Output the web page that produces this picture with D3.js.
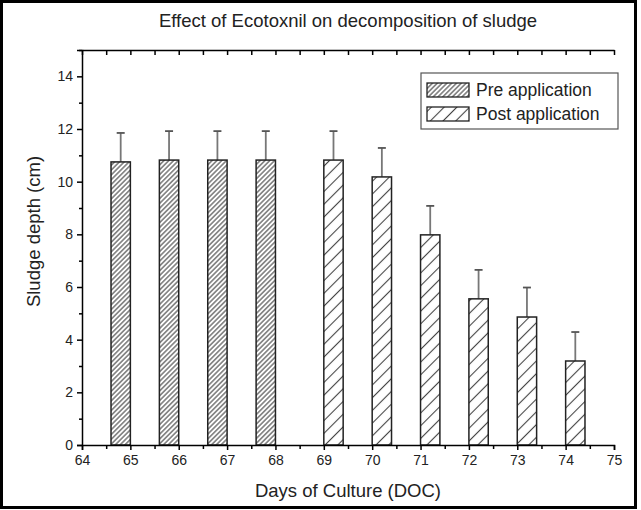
<!DOCTYPE html>
<html lang="en">
<head>
<meta charset="UTF-8">
<title>Sludge depth</title>
<script src="https://d3js.org/d3.v7.min.js"></script>
<style>
    body { margin: 0; background: #fff; }
    svg { display: block; font-family: "Liberation Sans", Arial, sans-serif; }
</style>
</head>
<body>
<svg width="641" height="510"></svg>
<script>
// data
const preDays = [65, 66, 67, 68];
const preDepth = [10.75, 10.82, 10.82, 10.82];
const preErr = [1.1, 1.1, 1.1, 1.1];
const postDays = [69, 70, 71, 72, 73, 74];
const postDepth = [10.82, 10.18, 7.98, 5.55, 4.86, 3.19];
const postErr = [1.1, 1.1, 1.1, 1.1, 1.12, 1.1];
const xTicks = [64, 65, 66, 67, 68, 69, 70, 71, 72, 73, 74, 75];
const yTicks = [0, 2, 4, 6, 8, 10, 12, 14];
const seriesNames = ["Pre application", "Post application"];

const svg = d3.select("svg");
const W = 641, H = 510;
const m = {left: 82, right: 27, top: 50, bottom: 65};

// frame around the whole figure
svg.append("rect")
    .attr("x", 1.5).attr("y", 1.5)
    .attr("width", 634).attr("height", H - 4)
    .attr("fill", "#fff").attr("stroke", "#000").attr("stroke-width", 3);

const defs = svg.append("defs");
function hatch(id, gap, w) {
    const p = defs.append("pattern")
        .attr("id", id)
        .attr("patternUnits", "userSpaceOnUse")
        .attr("width", gap).attr("height", gap)
        .attr("patternTransform", "rotate(45)");
    p.append("rect").attr("width", gap).attr("height", gap).attr("fill", "#fff");
    p.append("line")
        .attr("x1", gap / 2).attr("y1", 0).attr("x2", gap / 2).attr("y2", gap)
        .attr("stroke", "#444").attr("stroke-width", w);
}
hatch("pre", 3.4, 1.1);
hatch("post", 9, 1.1);

const x = d3.scaleLinear().domain([64, 75]).range([m.left, W - m.right]);
const y = d3.scaleLinear().domain([0, 15]).range([H - m.bottom, m.top]);
const bw = 0.4;

// title
svg.append("text")
    .attr("x", (x(64) + x(75)) / 2).attr("y", 27)
    .attr("text-anchor", "middle")
    .attr("font-size", 18.5).attr("fill", "#222")
    .text("Effect of Ecotoxnil on decomposition of sludge");

function drawSeries(days, vals, errs, pat, offset) {
    const g = svg.append("g");
    const rows = days.map((d, i) => ({d, v: vals[i], e: errs[i]}));
    const cx = r => x(r.d + offset + bw / 2);
    g.selectAll("line.err").data(rows).join("line")
        .attr("x1", cx).attr("x2", cx)
        .attr("y1", r => y(r.v)).attr("y2", r => y(r.v + r.e))
        .attr("stroke", "#777").attr("stroke-width", 1.8);
    g.selectAll("line.cap").data(rows).join("line")
        .attr("x1", r => cx(r) - 4).attr("x2", r => cx(r) + 4)
        .attr("y1", r => y(r.v + r.e)).attr("y2", r => y(r.v + r.e))
        .attr("stroke", "#555").attr("stroke-width", 1.8);
    g.selectAll("rect").data(rows).join("rect")
        .attr("x", r => x(r.d + offset))
        .attr("width", r => x(r.d + offset + bw) - x(r.d + offset))
        .attr("y", r => y(r.v))
        .attr("height", r => y(0) - y(r.v))
        .attr("fill", `url(#${pat})`)
        .attr("stroke", "#222").attr("stroke-width", 1.5);
}
drawSeries(preDays, preDepth, preErr, "pre", -bw);
drawSeries(postDays, postDepth, postErr, "post", 0);

// axes
const xMinor = d3.range(64, 75.01, 0.5);
const yMinor = d3.range(0, 15.01, 1);

svg.append("g")
    .attr("transform", `translate(0,${y(0)})`)
    .call(d3.axisBottom(x).tickValues(xTicks).tickFormat(d3.format("d")).tickSize(5).tickPadding(5));
svg.append("g")
    .attr("transform", `translate(0,${y(0)})`)
    .call(d3.axisBottom(x).tickValues(xMinor.filter(v => v % 1 !== 0)).tickFormat("").tickSize(4))
    .select(".domain").remove();

svg.append("g")
    .attr("transform", `translate(${m.left},0)`)
    .call(d3.axisLeft(y).tickValues(yTicks).tickSize(5).tickPadding(4));
svg.append("g")
    .attr("transform", `translate(${m.left},0)`)
    .call(d3.axisLeft(y).tickValues(yMinor.filter(v => v % 2 !== 0)).tickFormat("").tickSize(3))
    .select(".domain").remove();

// top axis, ticks inward, no labels
svg.append("g")
    .attr("transform", `translate(0,${m.top})`)
    .call(d3.axisBottom(x).tickValues(xMinor).tickFormat("").tickSizeInner(5).tickSizeOuter(0));

svg.selectAll(".domain").attr("stroke", "#000").attr("stroke-width", 1.5);
svg.selectAll(".tick line").attr("stroke", "#000").attr("stroke-width", 1.5);
svg.selectAll(".tick text").attr("font-size", 14).attr("fill", "#222")
    .attr("font-family", "Liberation Sans, Arial, sans-serif");

// axis titles
svg.append("text")
    .attr("x", (x(64) + x(75)) / 2).attr("y", 497)
    .attr("text-anchor", "middle").attr("font-size", 18.5).attr("fill", "#222")
    .text("Days of Culture (DOC)");
svg.append("text")
    .attr("transform", `translate(40,${(y(0) + y(15)) / 2 - 16}) rotate(-90)`)
    .attr("text-anchor", "middle").attr("font-size", 18.5).attr("fill", "#222")
    .text("Sludge depth (cm)");

// legend
const lg = svg.append("g").attr("transform", "translate(421,73)");
lg.append("rect").attr("width", 197).attr("height", 56)
    .attr("fill", "#fff").attr("stroke", "#555").attr("stroke-width", 1.2);
["pre", "post"].forEach((p, i) => {
    lg.append("rect")
        .attr("x", 6).attr("y", 10 + i * 24)
        .attr("width", 42).attr("height", 14)
        .attr("fill", `url(#${p})`).attr("stroke", "#222").attr("stroke-width", 1.3);
    lg.append("text")
        .attr("x", 55).attr("y", 23 + i * 24)
        .attr("font-size", 17.5).attr("fill", "#222")
        .text(seriesNames[i]);
});
</script>
</body>
</html>
